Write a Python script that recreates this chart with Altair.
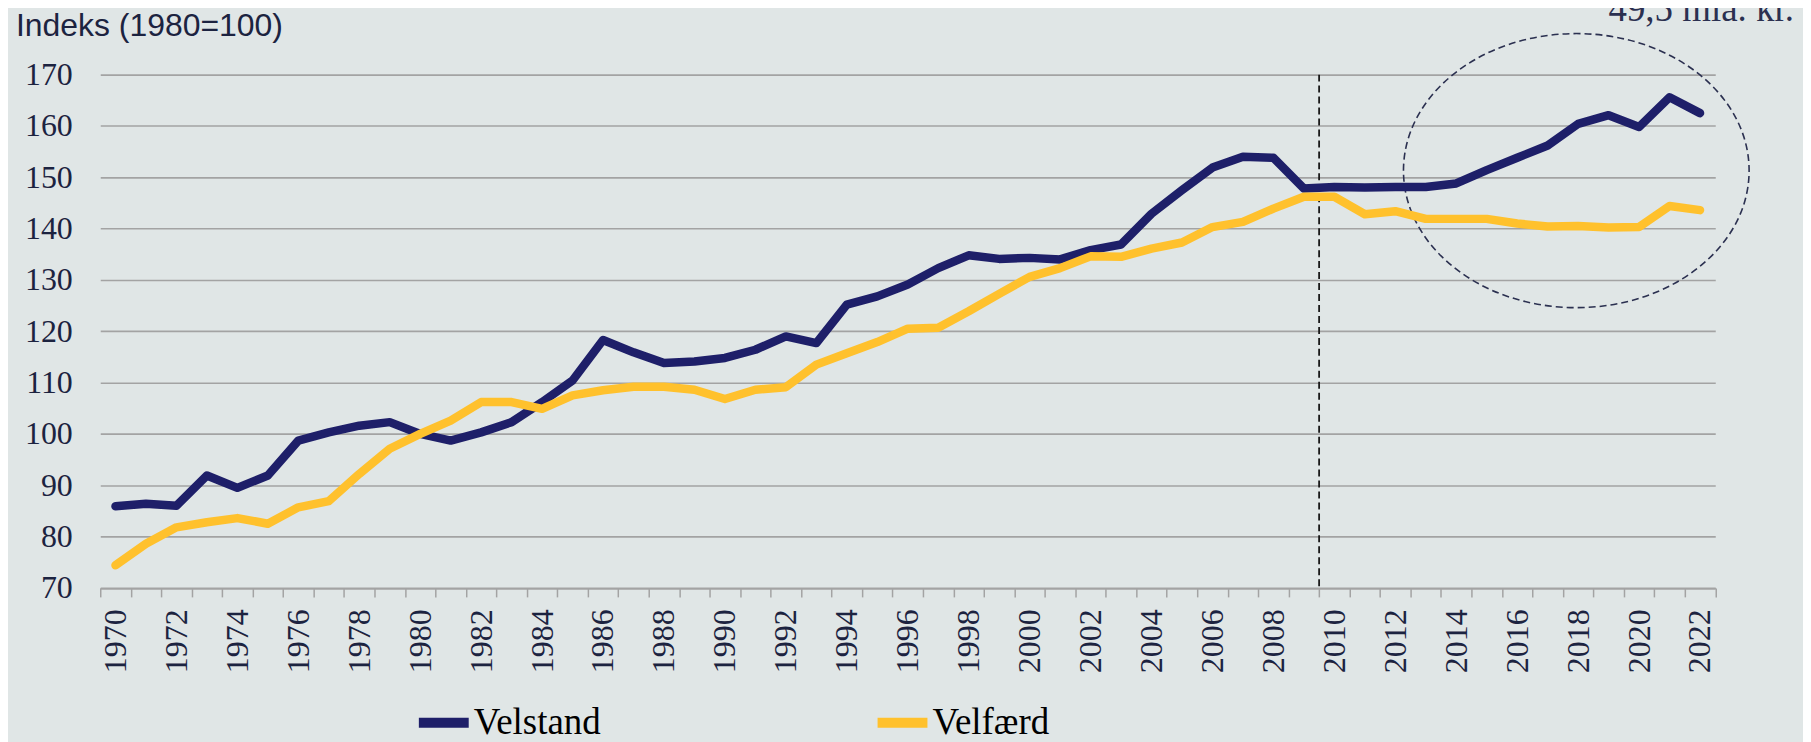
import altair as alt
import pandas as pd

# ---------------- data ----------------
years = list(range(1970, 2023))
velstand = [85.9, 86.4, 86.0, 91.9, 89.5, 91.9, 98.7, 100.3, 101.6, 102.3,
            100.0, 98.7, 100.3, 102.3, 106.2, 110.4, 118.3, 115.9, 113.8, 114.1,
            114.8, 116.4, 119.0, 117.7, 125.2, 126.8, 129.1, 132.3, 134.8, 134.1,
            134.3, 134.0, 135.8, 136.9, 142.9, 147.5, 151.9, 154.0, 153.8, 147.8,
            148.1, 148.0, 148.1, 148.1, 148.8, 151.4, 153.8, 156.2, 160.4, 162.1,
            159.8, 165.6, 162.5]
velfaerd = [74.4, 78.6, 81.8, 82.8, 83.6, 82.5, 85.7, 86.9, 92.2, 97.1,
            100.0, 102.6, 106.2, 106.2, 104.9, 107.5, 108.5, 109.2, 109.2, 108.6,
            106.8, 108.6, 109.1, 113.5, 115.7, 117.9, 120.5, 120.7, 123.9, 127.3,
            130.6, 132.3, 134.6, 134.5, 136.1, 137.3, 140.3, 141.3, 143.9, 146.2,
            146.2, 142.8, 143.4, 141.9, 141.9, 141.9, 141.0, 140.4, 140.5, 140.2,
            140.3, 144.4, 143.6]
series_names = ["Velstand", "Velfærd"]
series_colors = ["#1E1F69", "#FFC12D"]
y_ticks = [70, 80, 90, 100, 110, 120, 130, 140, 150, 160, 170]
marker_year = [2009.5]            # dashed divider between 2009 and 2010
ellipse_year = [2017.94]          # centre of dashed ellipse
ellipse_value = [151.3]
note_text = ["49,5 mia. kr."]
note_year = [2025.08]
note_value = [180.45]
title_text = ["Indeks (1980=100)"]
title_year = [1966.735]
title_value = [177.6]

# ---------------- layout ----------------
W = 1619.5
H = 514.7
px_per_year = W / len(years)
boundaries = [y - 0.5 for y in years] + [years[-1] + 0.5]

navy_text = "#1C2340"
grid_gray = "#A3A3A3"

df_vs = pd.DataFrame({"year": years, "value": velstand, "serie": series_names[0]})
df_vf = pd.DataFrame({"year": years, "value": velfaerd, "serie": series_names[1]})

x_scale = alt.Scale(domain=[years[0] - 0.5, years[-1] + 0.5], nice=False, zero=False)
y_scale = alt.Scale(domain=[y_ticks[0], y_ticks[-1]], nice=False, zero=False)
color_scale = alt.Scale(domain=series_names, range=series_colors)

x_axis = alt.Axis(
    values=boundaries,
    labelExpr="(datum.value + 0.5) % 2 == 0 && datum.value < 2022 ? '' + (datum.value + 0.5) : ''",
    labelOffset=px_per_year / 2,
    labelAngle=270,
    labelPadding=12,
    labelFont="Liberation Serif",
    labelFontSize=32,
    labelColor=navy_text,
    labelOverlap=False,
    labelFlush=False,
    labelBound=False,
    tickSize=9,
    tickWidth=1.5,
    tickColor=grid_gray,
    domainColor=grid_gray,
    domainWidth=2,
    grid=False,
    title=None,
)
y_axis = alt.Axis(
    values=y_ticks,
    domain=False,
    ticks=False,
    tickSize=0,
    labelPadding=28,
    labelFont="Liberation Serif",
    labelFontSize=32,
    labelColor=navy_text,
    grid=True,
    gridColor=grid_gray,
    gridWidth=1.6,
    title=None,
)
legend = alt.Legend(
    orient="none",
    legendX=314.5,
    legendY=620,
    direction="horizontal",
    columns=2,
    columnPadding=257,
    symbolType="stroke",
    symbolSize=2500,
    symbolStrokeWidth=10,
    labelFont="Liberation Serif",
    labelFontSize=37,
    labelColor="black",
    labelOffset=0,
    labelLimit=400,
    padding=0,
    title=None,
)

X = alt.X("year:Q", scale=x_scale, axis=x_axis)
Y = alt.Y("value:Q", scale=y_scale, axis=y_axis)
C = alt.Color("serie:N", scale=color_scale, legend=legend)

line_vs = alt.Chart(df_vs).mark_line(strokeWidth=8.5, strokeCap="round", strokeJoin="round").encode(x=X, y=Y, color=C)
line_vf = alt.Chart(df_vf).mark_line(strokeWidth=8.5, strokeCap="round", strokeJoin="round").encode(x=X, y=Y, color=C)

divider = alt.Chart(pd.DataFrame({"year": marker_year})).mark_rule(
    color="#1A1A1A", strokeDash=[7, 4], strokeWidth=1.8
).encode(x=X)

ellipse_path = ("M -1 0 C -1 -0.438 -0.5523 -0.793 0 -0.793 C 0.5523 -0.793 1 -0.438 1 0 "
                "C 1 0.438 0.5523 0.793 0 0.793 C -0.5523 0.793 -1 0.438 -1 0 Z")
ellipse = alt.Chart(pd.DataFrame({"year": ellipse_year, "value": ellipse_value})).mark_point(
    shape=ellipse_path, size=(2 * 173.3) ** 2, filled=False, stroke="#2B3050",
    strokeWidth=1.6, strokeDash=[7, 4], opacity=1
).encode(x=X, y=Y)

note = alt.Chart(pd.DataFrame({"year": note_year, "value": note_value, "t": note_text})).mark_text(
    align="right", baseline="alphabetic", font="Liberation Serif", fontSize=37, color="#2B3050"
).encode(x=X, y=Y, text="t:N")

title = alt.Chart(pd.DataFrame({"year": title_year, "value": title_value, "t": title_text})).mark_text(
    align="left", baseline="alphabetic", font="Liberation Sans", fontSize=32, color=navy_text
).encode(x=X, y=Y, text="t:N")

chart = alt.layer(divider, ellipse, line_vs, line_vf, note, title).properties(
    width=W,
    height=H,
    autosize=alt.AutoSizeParams(type="none"),
    padding={"left": 92.5, "top": 65.8, "right": 88, "bottom": 153.5},
).configure(background="#E0E6E6").configure_view(strokeOpacity=0)

chart.save("out.html", embed_options={"renderer": "svg", "actions": False})
